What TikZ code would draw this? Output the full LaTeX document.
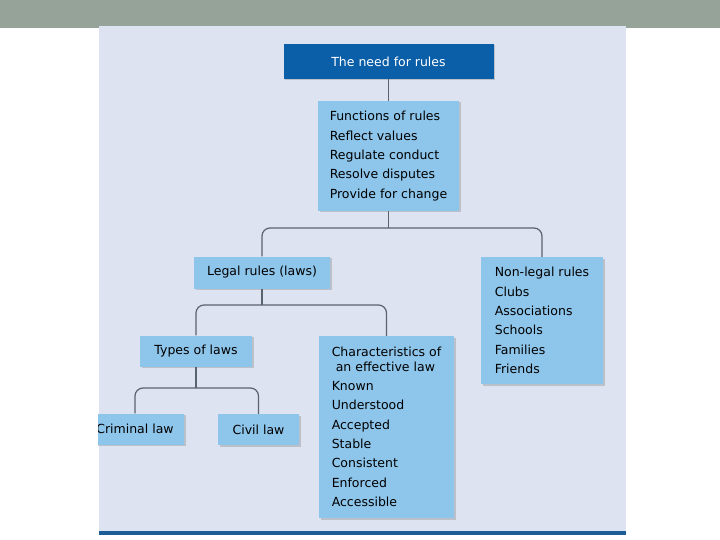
\documentclass[tikz,border=0pt]{standalone}
\usepackage{fontspec}
\setmainfont{DejaVu Sans}
\usetikzlibrary{shadows}

\definecolor{bandgrey}{HTML}{95A398}
\definecolor{panelblue}{HTML}{DDE3F1}
\definecolor{headblue}{HTML}{0B5EA8}
\definecolor{boxblue}{HTML}{8EC5EA}
\definecolor{rulebar}{HTML}{1D5E98}
\definecolor{linkgrey}{HTML}{59636E}

\begin{document}
\begin{tikzpicture}[x=1pt, y=-1pt,
    rulebox/.style={fill=boxblue, inner sep=0pt, align=left,
        font=\fontsize{12.5}{19.3}\selectfont,
        drop shadow={shadow xshift=1.5pt, shadow yshift=-1.5pt, opacity=.35}},
    headbox/.style={rulebox, fill=headblue, text=white},
    link/.style={draw=linkgrey, line width=1.2pt}]
    \useasboundingbox (0,0) rectangle (720,540);
    \fill[bandgrey] (0,0) rectangle (720,28.5);
    \fill[panelblue] (99,26) rectangle (626,532);
    \fill[rulebar] (99,531) rectangle (626,535);

    \begin{scope}
    \clip (98,26) rectangle (626,532);
    \node[headbox, minimum width=210, minimum height=35] (need) at (388.5,61.5) {The need for rules};
    \node[rulebox, minimum width=141, minimum height=110] (func) at (388.5,156)
        {Functions of rules\\Reflect values\\Regulate conduct\\Resolve disputes\\Provide for change};
    \node[rulebox, minimum width=136, minimum height=32] (legal) at (262,272.5) {Legal rules (laws)};
    \node[rulebox, minimum width=122, minimum height=127] (nonlegal) at (542,320.5)
        {Non-legal rules\\Clubs\\Associations\\Schools\\Families\\Friends};
    \node[rulebox, minimum width=112, minimum height=31] (types) at (196,351) {Types of laws};
    \node[rulebox, minimum width=135, minimum height=182] (charac) at (386.5,427)
        {Characteristics of\\[-5pt]\hspace*{4pt}an effective law\\Known\\Understood\\Accepted\\Stable\\Consistent\\Enforced\\Accessible};
    \node[rulebox, minimum width=98, minimum height=31] (criminal) at (135,429) {Criminal law};
    \node[rulebox, minimum width=81, minimum height=31] (civil) at (258.5,429.5) {Civil law};
    \end{scope}

    \coordinate (split1) at (388.5,228);
    \coordinate (split2) at (262,305);
    \coordinate (split3) at (196,388);

    \draw[link] (need.south) -- (func.north);
    \draw[link] (func.south) -- (split1);
    \draw[link, rounded corners=8pt] (legal.north) |- (split1) -| (nonlegal.north);
    \draw[link] (legal.south) -- (split2);
    \draw[link, rounded corners=8pt] (types.north) |- (split2) -| (charac.north);
    \draw[link] (types.south) -- (split3);
    \draw[link, rounded corners=8pt] (criminal.north) |- (split3) -| (civil.north);
\end{tikzpicture}
\end{document}
